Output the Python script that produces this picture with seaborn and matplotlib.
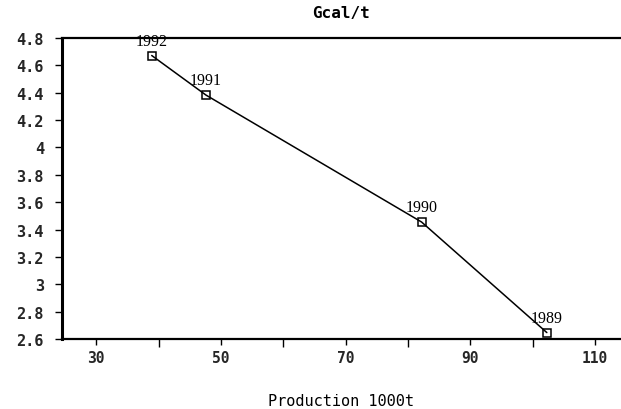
import matplotlib
matplotlib.use("Agg")
import matplotlib.pyplot as plt
import seaborn as sns
import pandas as pd
from matplotlib.ticker import MultipleLocator, FixedLocator

years = ["1989", "1990", "1991", "1992"]
production = [102.3, 82.2, 47.6, 38.9]
gcal_per_t = [2.647, 3.455, 4.383, 4.672]

df = pd.DataFrame({"year": years, "production": production, "gcal": gcal_per_t})

sns.set_theme(style="white")
plt.rcParams["font.family"] = ["DejaVu Sans Mono", "DejaVu Sans"]

fig = plt.figure(figsize=(6.21, 4.10), dpi=100)
ax = fig.add_axes([0.0998, 0.1707, 0.9002, 0.7342])

sns.lineplot(data=df, x="production", y="gcal", sort=False, ax=ax,
             color="black", linewidth=1.1, marker="s", markersize=6,
             markerfacecolor="none", markeredgecolor="black",
             markeredgewidth=1.1)

for _, row in df.iterrows():
    ax.annotate(row["year"], (row["production"], row["gcal"]),
                xytext=(0, 5), textcoords="offset points",
                ha="center", va="bottom", fontsize=11.5,
                family="Liberation Serif", color="black")


def fmt(v, pos):
    if abs(v - round(v)) < 1e-6:
        return f"{int(round(v))}"
    return f"{v:.1f}"


ax.set_xlim(24.5, 114.2)
ax.set_ylim(2.6, 4.8)
ax.xaxis.set_major_locator(FixedLocator([30, 50, 70, 90, 110]))
ax.xaxis.set_minor_locator(FixedLocator([40, 60, 80, 100]))
ax.yaxis.set_major_locator(MultipleLocator(0.2))
ax.yaxis.set_major_formatter(plt.FuncFormatter(fmt))

ax.tick_params(axis="x", which="major", direction="out", length=4, width=1,
               color="black", labelsize=10.5, pad=4, bottom=True)
ax.tick_params(axis="x", which="minor", direction="out", length=6, width=1,
               color="black", bottom=True)
ax.tick_params(axis="y", direction="out", length=5, width=1,
               color="black", labelsize=11, pad=8, left=True)
for lab in ax.get_xticklabels() + ax.get_yticklabels():
    lab.set_fontweight("bold")

ax.spines["right"].set_visible(False)
ax.spines["left"].set_linewidth(2.2)
ax.spines["bottom"].set_linewidth(1.6)
ax.spines["top"].set_linewidth(1.6)
for s in ("left", "bottom", "top"):
    ax.spines[s].set_color("black")

ax.set_xlabel("Production 1000t", fontsize=11, labelpad=20, color="black")
ax.set_ylabel("")
ax.set_title("Gcal/t", fontsize=11.5, fontweight="bold", pad=15, color="black")

fig.savefig("out.png", dpi=100)
